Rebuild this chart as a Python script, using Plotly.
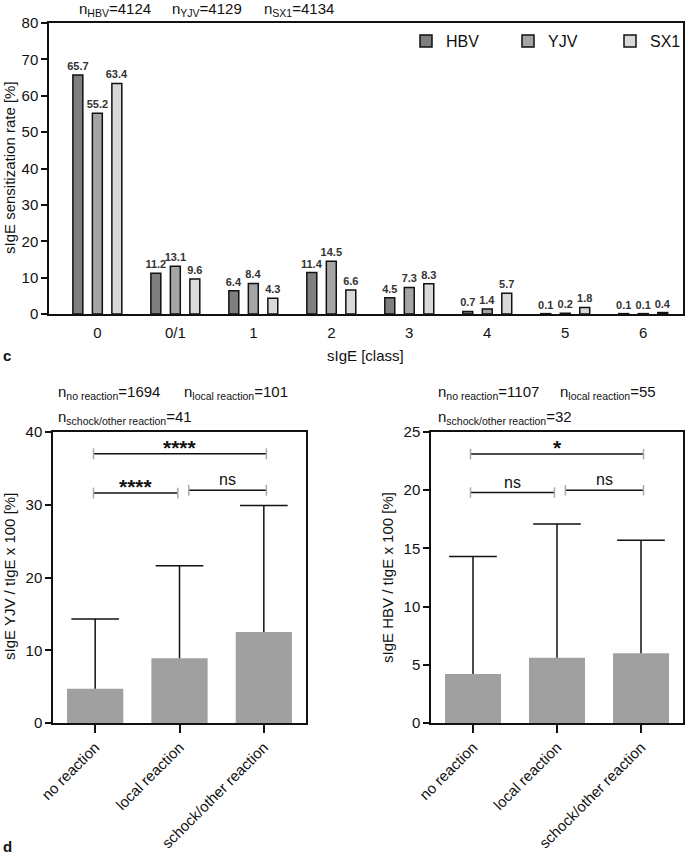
import plotly.graph_objects as go

# ---------------- data ----------------
classes = ["0", "0/1", "1", "2", "3", "4", "5", "6"]
hbv = [65.7, 11.2, 6.4, 11.4, 4.5, 0.7, 0.1, 0.1]
yjv = [55.2, 13.1, 8.4, 14.5, 7.3, 1.4, 0.2, 0.1]
sx1 = [63.4, 9.6, 4.3, 6.6, 8.3, 5.7, 1.8, 0.4]

reactions = ["no reaction", "local reaction", "schock/other reaction"]
yjv_ratio_mean = [4.7, 8.9, 12.5]
yjv_ratio_upper = [14.3, 21.6, 29.9]
hbv_ratio_mean = [4.2, 5.6, 6.0]
hbv_ratio_upper = [14.3, 17.1, 15.7]

# significance brackets: (x start, x end, height, label) in category units
sig_yjv = [(-0.02, 2.03, 37.0, "****"), (-0.02, 0.98, 31.6, "****"), (1.11, 2.03, 32.0, "ns")]
sig_hbv = [(-0.03, 2.03, 23.1, "*"), (-0.03, 0.97, 19.8, "ns"), (1.10, 2.03, 20.0, "ns")]

W, H = 685, 854
FONT = "Liberation Sans, Arial, sans-serif"
INK = "#111111"


def px(x):
    return x / W


def py(y):
    return 1 - y / H


fig = go.Figure()

# ---------- top grouped bar chart ----------
for name, vals, col in [("HBV", hbv, "#7f7f7f"), ("YJV", yjv, "#a5a5a5"), ("SX1", sx1, "#d9d9d9")]:
    fig.add_trace(go.Bar(
        x=classes, y=vals, name=name, xaxis="x", yaxis="y",
        marker=dict(color=col, line=dict(color=INK, width=1.5)),
        text=[f"{v:.1f}" for v in vals], textposition="outside",
        textfont=dict(size=11, color="#333333", family=FONT, weight="bold"),
        constraintext="none", cliponaxis=False,
    ))


def ratio_panel(means, uppers, xa, ya):
    errs = [u - m for u, m in zip(uppers, means)]
    fig.add_trace(go.Bar(
        x=reactions, y=means, xaxis=xa, yaxis=ya, showlegend=False,
        width=0.667, marker=dict(color="#a0a0a0", line=dict(width=0)),
        error_y=dict(type="data", symmetric=False, array=errs, arrayminus=[0] * len(errs),
                     color=INK, thickness=1.5, width=0),
    ))
    # whisker caps
    fig.add_trace(go.Scatter(
        x=reactions, y=uppers, xaxis=xa, yaxis=ya, mode="markers", showlegend=False,
        hoverinfo="skip",
        marker=dict(symbol="line-ew", size=34, color=INK, line=dict(color=INK, width=1.5)),
    ))


ratio_panel(yjv_ratio_mean, yjv_ratio_upper, "x2", "y2")
ratio_panel(hbv_ratio_mean, hbv_ratio_upper, "x3", "y3")

shapes = []
annotations = []


def add_brackets(sigs, xr, yr, tick_half):
    for x0, x1, yv, lab in sigs:
        shapes.append(dict(type="line", xref=xr, yref=yr, x0=x0, x1=x1, y0=yv, y1=yv,
                           line=dict(color=INK, width=1.5)))
        for xe in (x0, x1):
            shapes.append(dict(type="line", xref=xr, yref=yr, x0=xe, x1=xe,
                               y0=yv - tick_half, y1=yv + tick_half,
                               line=dict(color="#aaaaaa", width=1.5)))
        is_star = "*" in lab
        annotations.append(dict(
            xref=xr, yref=yr, x=(x0 + x1) / 2, y=yv, text=lab, showarrow=False,
            yanchor="bottom", yshift=-7 if is_star else 0,
            font=dict(size=21 if is_star else 16, family=FONT, color=INK,
                      weight="bold" if is_star else "normal"),
        ))


add_brackets(sig_yjv, "x2", "y2", 0.75)
add_brackets(sig_hbv, "x3", "y3", 0.45)

txt = dict(family=FONT, size=15, color=INK)
# n headers
for x, t in [(77, "n<sub>HBV</sub>=4124"), (170, "n<sub>YJV</sub>=4129"), (262, "n<sub>SX1</sub>=4134")]:
    annotations.append(dict(xref="paper", yref="paper", x=px(x), y=py(9), text=t,
                            showarrow=False, xanchor="left", yanchor="middle", font=txt))
for x, y, t in [(56, 393, "n<sub>no reaction</sub>=1694"), (182, 393, "n<sub>local reaction</sub>=101"),
                (56, 417, "n<sub>schock/other reaction</sub>=41"),
                (436, 393, "n<sub>no reaction</sub>=1107"), (558, 393, "n<sub>local reaction</sub>=55"),
                (436, 417, "n<sub>schock/other reaction</sub>=32")]:
    annotations.append(dict(xref="paper", yref="paper", x=px(x), y=py(y), text=t,
                            showarrow=False, xanchor="left", yanchor="middle", font=txt))
# panel letters
for y, t in [(355, "c"), (846, "d")]:
    annotations.append(dict(xref="paper", yref="paper", x=px(1), y=py(y), text=f"<b>{t}</b>",
                            showarrow=False, xanchor="left", yanchor="middle",
                            font=dict(family=FONT, size=15, color=INK)))
# axis titles
for x, y, t in [(9, 168, "sIgE sensitization rate [%]"), (9, 577, "sIgE YJV / tIgE x 100 [%]"),
                (387, 577, "sIgE HBV / tIgE x 100 [%]")]:
    annotations.append(dict(xref="paper", yref="paper", x=px(x), y=py(y), text=t, textangle=-90,
                            showarrow=False, xanchor="center", yanchor="middle", font=txt))
annotations.append(dict(xref="paper", yref="paper", x=px(366), y=py(355), text="sIgE [class]",
                        showarrow=False, xanchor="center", yanchor="middle", font=txt))

axis_common = dict(showline=True, linecolor=INK, linewidth=1.5, mirror=True,
                   showgrid=False, zeroline=False, automargin=False,
                   tickfont=dict(family=FONT, size=15, color=INK))
yticks = dict(ticks="outside", ticklen=6, tickwidth=1.5, tickcolor=INK)
xticks_b = dict(ticks="outside", ticklen=8, tickwidth=1.5, tickcolor=INK, tickangle=-45,
                tickfont=dict(family=FONT, size=15, color=INK))

fig.update_layout(
    width=W, height=H, autosize=False,
    margin=dict(l=0, r=0, t=0, b=0, pad=0, autoexpand=False),
    paper_bgcolor="white", plot_bgcolor="white",
    barmode="group", bargap=0.25, bargroupgap=0.49,
    font=dict(family=FONT, color=INK),
    showlegend=True,
    legend=dict(orientation="h", x=px(406), y=py(41), xanchor="left", yanchor="middle",
                font=dict(family=FONT, size=16, color=INK), bgcolor="rgba(0,0,0,0)",
                entrywidth=57, itemclick=False),
    xaxis={**axis_common, "domain": [px(49), px(683)], "anchor": "y", "type": "category",
           "range": [-0.62, 7.51], "ticks": "", "ticklabelstandoff": 4},
    yaxis={**axis_common, **yticks, "domain": [py(314), py(23)], "anchor": "x",
           "range": [0, 80], "dtick": 10},
    xaxis2={**axis_common, **xticks_b, "domain": [px(53), px(306)], "anchor": "y2",
            "type": "category", "range": [-0.5, 2.5]},
    yaxis2={**axis_common, **yticks, "domain": [py(723), py(432)], "anchor": "x2",
            "range": [0, 40], "dtick": 10},
    xaxis3={**axis_common, **xticks_b, "domain": [px(431), px(683)], "anchor": "y3",
            "type": "category", "range": [-0.5, 2.5]},
    yaxis3={**axis_common, **yticks, "domain": [py(723), py(432)], "anchor": "x3",
            "range": [0, 25], "dtick": 5},
    shapes=shapes, annotations=annotations,
)

fig.write_html("out.html", config={"responsive": False, "displayModeBar": False},
               post_script="document.body.style.margin='0';document.body.style.padding='0';")
